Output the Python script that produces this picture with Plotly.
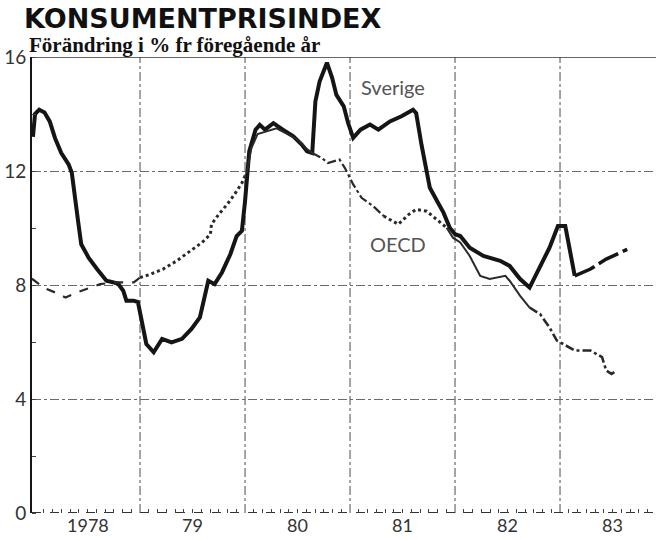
import plotly.graph_objects as go

# ---------------- data ----------------
sverige_t = [1977.98, 1978.00, 1978.04, 1978.09, 1978.14, 1978.19, 1978.25, 1978.32, 1978.35,
             1978.38, 1978.41, 1978.44, 1978.51, 1978.59, 1978.68, 1978.79, 1978.84, 1978.87,
             1978.94, 1978.98, 1979.02, 1979.06, 1979.13, 1979.21, 1979.30, 1979.40, 1979.49,
             1979.57, 1979.65, 1979.71, 1979.78, 1979.86, 1979.92, 1979.97, 1980.00, 1980.02,
             1980.04, 1980.10, 1980.14, 1980.19, 1980.27, 1980.36, 1980.46, 1980.54, 1980.59,
             1980.64, 1980.65, 1980.67, 1980.71, 1980.78, 1980.83, 1980.87, 1980.94, 1980.98,
             1981.03, 1981.10, 1981.19, 1981.27, 1981.38, 1981.49, 1981.60, 1981.63, 1981.68,
             1981.73, 1981.76, 1981.83, 1981.89, 1981.95, 1982.00, 1982.05, 1982.14, 1982.27,
             1982.43, 1982.52, 1982.62, 1982.71, 1982.81, 1982.90, 1982.98, 1983.05, 1983.14,
             1983.29, 1983.44, 1983.64]
sverige_v = [13.2, 14.0, 14.15, 14.05, 13.74, 13.16, 12.63, 12.23, 11.94,
             11.19, 10.24, 9.43, 8.96, 8.56, 8.15, 8.05, 7.80, 7.45,
             7.45, 7.40, 6.63, 5.93, 5.64, 6.11, 5.99, 6.11, 6.46,
             6.86, 8.15, 8.03, 8.44, 9.08, 9.72, 9.90, 10.94, 12.0,
             12.69, 13.45, 13.62, 13.45, 13.68, 13.45, 13.22, 12.93, 12.69,
             12.63, 13.28, 14.44, 15.14, 15.8, 15.26, 14.67, 14.27, 13.7,
             13.16, 13.45, 13.63, 13.45, 13.74, 13.92, 14.15, 14.03, 12.93,
             11.88, 11.41, 10.94, 10.54, 10.01, 9.78, 9.72, 9.31, 9.02,
             8.85, 8.67, 8.21, 7.91, 8.61, 9.31, 10.07, 10.07, 8.32,
             8.56, 8.91, 9.25]

oecd_t = [1977.97, 1978.08, 1978.19, 1978.29, 1978.40, 1978.52, 1978.62, 1978.75, 1978.94,
          1979.00, 1979.10, 1979.22, 1979.35, 1979.48, 1979.59, 1979.67, 1979.68, 1979.75,
          1979.83, 1979.90, 1979.97, 1980.02, 1980.06, 1980.12, 1980.20, 1980.30, 1980.40,
          1980.50, 1980.58, 1980.64, 1980.73, 1980.79, 1980.90, 1980.95, 1981.03, 1981.11,
          1981.22, 1981.32, 1981.46, 1981.56, 1981.63, 1981.73, 1981.83, 1981.92, 1981.98,
          1982.05, 1982.14, 1982.24, 1982.33, 1982.48, 1982.52, 1982.62, 1982.71, 1982.81,
          1982.90, 1982.97, 1983.03, 1983.14, 1983.29, 1983.40, 1983.44, 1983.49, 1983.54]
oecd_v = [8.22, 7.91, 7.74, 7.56, 7.74, 7.91, 8.03, 8.09, 8.09,
          8.26, 8.38, 8.56, 8.85, 9.20, 9.49, 9.78, 10.13, 10.48,
          10.83, 11.18, 11.58, 12.0, 12.8, 13.3, 13.4, 13.5, 13.3,
          13.1, 12.8, 12.63, 12.46, 12.28, 12.40, 12.11, 11.53, 11.06,
          10.77, 10.42, 10.13, 10.48, 10.65, 10.59, 10.30, 10.01, 9.66,
          9.49, 9.02, 8.32, 8.21, 8.32, 8.15, 7.62, 7.21, 6.98,
          6.51, 6.05, 5.93, 5.70, 5.70, 5.47, 5.00, 4.88, 5.00]

year_labels = ["1978", "79", "80", "81", "82", "83"]
year_mid = [1978.5, 1979.5, 1980.5, 1981.5, 1982.5, 1983.5]
year_bounds = [1979, 1980, 1981, 1982, 1983]
y_ticks = [0, 4, 8, 12, 16]

# ---------------- styling ----------------
W, H = 656, 540
INK = "#151515"
GRID = "#6a6a6a"
X_RANGE = [1977.971, 1983.914]
PLOT_LEFT, PLOT_TOP, PLOT_BOTTOM = 32, 57, 513
PLOT_H = PLOT_BOTTOM - PLOT_TOP
PLOT_W = W - PLOT_LEFT

fig = go.Figure()

# Sverige: solid, last part dashed
sv_break = sverige_t.index(1983.14)
fig.add_trace(go.Scatter(x=sverige_t[:sv_break + 1], y=sverige_v[:sv_break + 1], mode="lines",
                         line=dict(color=INK, width=4), showlegend=False, hoverinfo="skip"))
fig.add_trace(go.Scatter(x=sverige_t[sv_break:], y=sverige_v[sv_break:], mode="lines",
                         line=dict(color=INK, width=3.5, dash="22px,5px"), showlegend=False,
                         hoverinfo="skip"))

# OECD: segments in different dash styles (as in the printed chart)
oecd_segments = [
    (1977.97, 1979.00, "dash", 2.2),
    (1979.00, 1980.02, "dot", 3),
    (1980.02, 1980.64, "solid", 2),
    (1980.64, 1981.32, "dashdot", 2.2),
    (1981.32, 1981.92, "dot", 3),
    (1981.92, 1982.71, "solid", 2),
    (1982.71, 1983.54, "dashdot", 2.6),
]
for t0, t1, dash, w in oecd_segments:
    i0, i1 = oecd_t.index(t0), oecd_t.index(t1)
    fig.add_trace(go.Scatter(x=oecd_t[i0:i1 + 1], y=oecd_v[i0:i1 + 1], mode="lines",
                             line=dict(color="#2a2a2a", width=w, dash=dash),
                             showlegend=False, hoverinfo="skip"))

shapes = []
for b in year_bounds:
    shapes.append(dict(type="line", xref="x", yref="y", x0=b, x1=b, y0=0, y1=16,
                       line=dict(color=GRID, width=1.2, dash="dashdot"), layer="below"))
shapes.append(dict(type="line", xref="x", yref="y", x0=X_RANGE[0], x1=X_RANGE[1], y0=16, y1=16,
                   line=dict(color="#333333", width=1.5), layer="below"))
shapes.append(dict(type="line", xref="x", yref="y", x0=X_RANGE[0], x1=X_RANGE[1], y0=0, y1=0,
                   line=dict(color="#333333", width=2, dash="dash"), layer="below"))

annotations = [
    dict(text="<b>Förändring i % fr föregående år</b>", xref="paper", yref="paper",
         x=(28 - PLOT_LEFT) / PLOT_W, y=1 + (PLOT_TOP - 45) / PLOT_H, xanchor="left",
         yanchor="middle", showarrow=False, borderpad=0,
         font=dict(family="Liberation Serif", size=21, color="#111111")),
    dict(text="Sverige", xref="x", yref="y", x=1981.41, y=14.95, showarrow=False,
         font=dict(family="Lato", size=20, color="#555555")),
    dict(text="OECD", xref="x", yref="y", x=1981.46, y=9.44, showarrow=False,
         font=dict(family="Lato", size=20, color="#555555")),
]
for xm, lab in zip(year_mid, year_labels):
    annotations.append(dict(text=lab, xref="x", yref="paper", x=xm,
                            y=-(525 - PLOT_BOTTOM) / PLOT_H,
                            xanchor="center", yanchor="middle", showarrow=False, borderpad=0,
                            font=dict(family="Lato", size=18, color="#333333")))

fig.update_layout(
    width=W, height=H,
    margin=dict(l=PLOT_LEFT, r=0, t=PLOT_TOP, b=H - PLOT_BOTTOM, pad=0),
    paper_bgcolor="white", plot_bgcolor="white",
    font=dict(family="Lato", color="#222222", size=18),
    shapes=shapes,
    title=dict(text="<b>KONSUMENTPRISINDEX</b>", x=24 / W, xanchor="left",
               y=1 - 19 / H, yanchor="middle", xref="container", yref="container",
               font=dict(family="DejaVu Sans", size=27, color="#111111")),
    xaxis=dict(range=X_RANGE, showticklabels=False, ticks="", automargin=False,
               showgrid=False, zeroline=False, showline=False,
               minor=dict(dtick=1 / 12, tick0=1978, ticks="inside", ticklen=4,
                          tickcolor="#444444", tickwidth=1, showgrid=False)),
    yaxis=dict(range=[0, 16], tickvals=y_ticks, ticks="", showgrid=True, automargin=False,
               gridcolor=GRID, gridwidth=1.2, griddash="dashdot", zeroline=False,
               showline=True, linecolor=INK, linewidth=2, ticklabelstandoff=0,
               tickfont=dict(size=19, color="#333333"),
               minor=dict(dtick=2, tick0=0, ticks="inside", ticklen=4,
                          tickcolor="#444444", showgrid=False)),
    annotations=annotations,
)

# remove the browser's default 8px body margin so the figure fills the window
fig.write_html("out.html", config={"displayModeBar": False},
               post_script="document.body.style.margin='0';document.body.style.overflow='hidden';")
